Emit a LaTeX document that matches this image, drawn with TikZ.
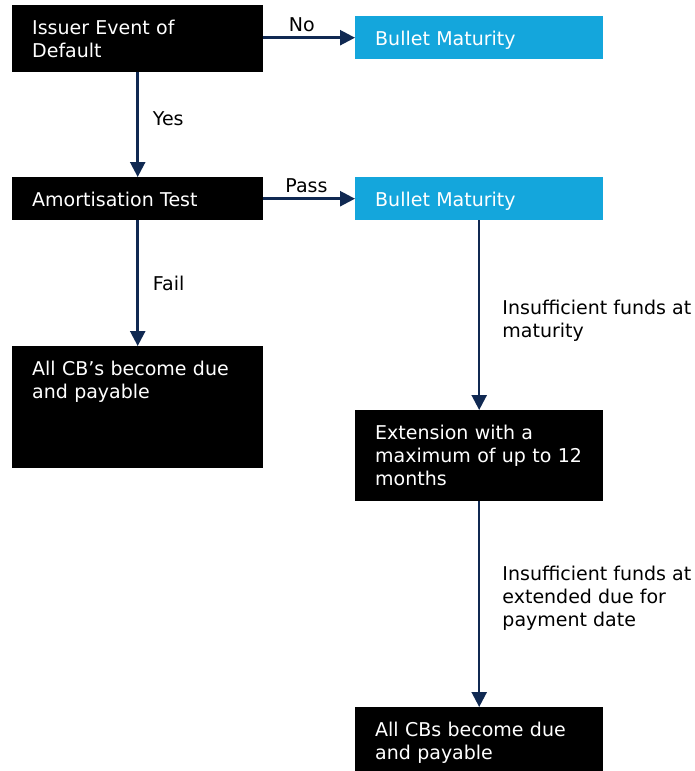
\documentclass[tikz,border=0pt]{standalone}
\usepackage{fontspec}
\setmainfont{DejaVu Sans}
\usepackage{xcolor}
\usepackage{tikz}
\usetikzlibrary{arrows.meta,positioning}

\definecolor{flownavy}{RGB}{16,41,82}
\definecolor{bulletblue}{RGB}{20,166,220}
\newcommand{\flowfont}{\fontsize{19}{23}\selectfont}

\begin{document}
\begin{tikzpicture}[x=1pt, y=-1pt,
    stage/.style={anchor=north west, inner xsep=20pt, inner ysep=0pt, text height=29pt, align=left, font=\flowfont, text=white},
    dark/.style={stage, fill=black},
    light/.style={stage, fill=bulletblue},
    flow/.style={draw=flownavy, line width=2.5pt, -{Triangle[width=15pt,length=15pt]}},
    lbl/.style={font=\flowfont, align=left, inner sep=2pt}]
    \useasboundingbox (0,0) rectangle (695,771);

    \node[dark, text width=211pt, text depth=38pt] (issuer) at (12,5) {Issuer Event of\\Default};
    \node[light, text width=208pt, text depth=14pt] (bullet_a) at (355,16) {Bullet Maturity};

    \node[dark, text width=211pt, text depth=14pt] (amort) at (12,177) {Amortisation Test};
    \node[light, text width=208pt, text depth=14pt] (bullet_b) at (355,177) {Bullet Maturity};

    \node[dark, text width=211pt, text depth=93pt] (due_a) at (12,346) {All CB’s become due\\and payable};
    \node[dark, text width=208pt, text depth=62pt] (extension) at (355,410) {Extension with a\\maximum of up to~12\\months};
    \node[dark, text width=208pt, text depth=35pt] (due_b) at (355,707) {All CBs become due\\and payable};

    \draw[flow] (issuer.east |- bullet_a.west) -- node[lbl, above=3pt, pos=0.42] {No} (bullet_a.west);
    \draw[flow] (issuer) -- node[lbl, right=12pt, pos=0.44] {Yes} (amort);
    \draw[flow] (amort) -- node[lbl, above=3pt, pos=0.47] {Pass} (bullet_b);
    \draw[flow] (amort) -- node[lbl, right=12pt] {Fail} (due_a);
    \draw[flow] (bullet_b) -- node[lbl, right=20pt, pos=0.53] {Insufficient funds at\\maturity} (extension);
    \draw[flow] (extension) -- node[lbl, right=20pt, pos=0.47] {Insufficient funds at\\extended due for\\payment date} (due_b);
\end{tikzpicture}
\end{document}
